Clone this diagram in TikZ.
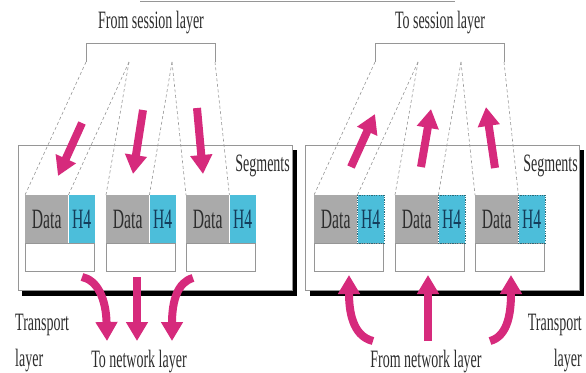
\documentclass[tikz,border=0pt]{standalone}
\usepackage{fontspec}
\setmainfont{Liberation Serif}
\usetikzlibrary{arrows.meta}

\definecolor{segpink}{RGB}{214,42,124}
\definecolor{datagray}{RGB}{170,170,170}
\definecolor{hcyan}{RGB}{76,190,218}
\definecolor{txtgray}{RGB}{45,45,45}
\definecolor{htext}{RGB}{20,60,90}
\definecolor{edgegray}{RGB}{150,150,150}

% condensed lettering
\newcommand{\narrow}[1]{\scalebox{0.56}[1]{#1}}

\begin{document}
\begin{tikzpicture}[x=1pt,y=-1pt,
  lbl/.style={font=\fontsize{25}{26}\selectfont, text=txtgray, inner sep=0pt},
  datacell/.style={fill=datagray, minimum width=43pt, minimum height=48pt,
    inner sep=0pt, anchor=north west, font=\fontsize{28}{28}\selectfont, text=txtgray},
  hcell/.style={fill=hcyan, minimum width=26pt, minimum height=48pt,
    inner sep=0pt, anchor=north west, font=\fontsize{28}{28}\selectfont, text=htext},
  slotbox/.style={draw=edgegray, line width=0.7pt, fill=white, minimum width=69pt,
    minimum height=28pt, inner sep=0pt, anchor=north west},
  guide/.style={draw=edgegray, line width=0.6pt, dash pattern=on 3pt off 2.5pt},
  bracket/.style={draw=edgegray, line width=0.8pt},
  pinkarrow/.style={draw=segpink, line width=8pt,
    -{Triangle[length=19pt,width=21pt]}},
  panel/.style={draw=edgegray, line width=0.7pt, fill=white},
]
\useasboundingbox (0,0) rectangle (586,372);

% thin rule along the top edge
\draw[edgegray, line width=0.8pt] (140,1) -- (455,1);

% panels with drop shadow
\fill[black] (22,150) rectangle (297,296);
\draw[panel] (18,145) rectangle (292,290);
\fill[black] (310,150) rectangle (584,296);
\draw[panel] (305,145) rectangle (579,290);

% three segments, session bracket and guide lines in each panel
\foreach \p/\dx in {L/0,R/289}{
  \begin{scope}[xshift=\dx pt]
    \foreach \i/\sx in {1/25,2/106,3/186}{
      \node[datacell] (d\p\i) at (\sx,195) {\narrow{Data}};
      \node[hcell] (h\p\i) at (d\p\i.north east) {\narrow{H4}};
      \node[slotbox] (s\p\i) at (d\p\i.south west) {};
    }
    \coordinate (b\p1) at (86,62);
    \coordinate (b\p2) at (129,62);
    \coordinate (b\p3) at (172,62);
    \coordinate (b\p4) at (215,62);
    \draw[bracket] (b\p1) -- (86,43) -- (215,43) -- (b\p4);
    \draw[guide] (b\p1) -- (d\p1.north west);
    \draw[guide] (b\p2) -- (d\p1.north east);
    \draw[guide] (b\p2) -- (d\p2.north west);
    \draw[guide] (b\p3) -- (d\p2.north east);
    \draw[guide] (b\p3) -- (d\p3.north west);
    \draw[guide] (b\p4) -- (d\p3.north east);
  \end{scope}
}

% dotted outline of the received headers
\foreach \i in {1,2,3}{
  \draw[hcyan!55!black, line width=0.5pt, dash pattern=on 1.2pt off 1.2pt]
    (hR\i.north west) rectangle (hR\i.south east);
}

% labels
\node[lbl, anchor=base] (fromSession) at (151,28) {\narrow{From session layer}};
\node[lbl, anchor=base] (toSession) at (440,28) {\narrow{To session layer}};
\node[lbl, anchor=base east] (segL) at (290,171) {\narrow{Segments}};
\node[lbl, anchor=base east] (segR) at (578,171) {\narrow{Segments}};
\node[lbl, anchor=base west] (trL1) at (15,330) {\narrow{Transport}};
\node[lbl, anchor=base west] (trL2) at (15,366) {\narrow{layer}};
\node[lbl, anchor=base east] (trR1) at (582,330) {\narrow{Transport}};
\node[lbl, anchor=base east] (trR2) at (582,366) {\narrow{layer}};
\node[lbl, anchor=base] (toNet) at (139,367) {\narrow{To network layer}};
\node[lbl, anchor=base] (fromNet) at (426,367) {\narrow{From network layer}};

% sending side: session data split into segments
\coordinate (tL1a) at (82,123);  \coordinate (tL1b) at (58,176);
\coordinate (tL2a) at (143,110); \coordinate (tL2b) at (133,174);
\coordinate (tL3a) at (197,108); \coordinate (tL3b) at (203,174);
\draw[pinkarrow] (tL1a) -- (tL1b);
\draw[pinkarrow] (tL2a) -- (tL2b);
\draw[pinkarrow] (tL3a) -- (tL3b);

% sending side: segments handed down
\coordinate (bL1a) at (82,277);  \coordinate (bL1b) at (107,341);
\coordinate (bL2a) at (137,277); \coordinate (bL2b) at (137,341);
\coordinate (bL3a) at (193,278); \coordinate (bL3b) at (172,341);
\draw[pinkarrow] (bL1a) .. controls (97,280) and (106,298) .. (bL1b);
\draw[pinkarrow] (bL2a) -- (bL2b);
\draw[pinkarrow] (bL3a) .. controls (178,282) and (172,300) .. (bL3b);

% receiving side: segments delivered up
\coordinate (tR1a) at (351,167); \coordinate (tR1b) at (375,114);
\coordinate (tR2a) at (421,167); \coordinate (tR2b) at (431,109);
\coordinate (tR3a) at (495,168); \coordinate (tR3b) at (486,107);
\draw[pinkarrow] (tR1a) -- (tR1b);
\draw[pinkarrow] (tR2a) -- (tR2b);
\draw[pinkarrow] (tR3a) -- (tR3b);

% receiving side: segments arriving from below
\coordinate (bR1a) at (373,341); \coordinate (bR1b) at (349,275);
\coordinate (bR2a) at (428,341); \coordinate (bR2b) at (428,275);
\coordinate (bR3a) at (490,341); \coordinate (bR3b) at (511,275);
\draw[pinkarrow] (bR1a) .. controls (352,336) and (349,310) .. (bR1b);
\draw[pinkarrow] (bR2a) -- (bR2b);
\draw[pinkarrow] (bR3a) .. controls (509,336) and (511,310) .. (bR3b);
\end{tikzpicture}
\end{document}
